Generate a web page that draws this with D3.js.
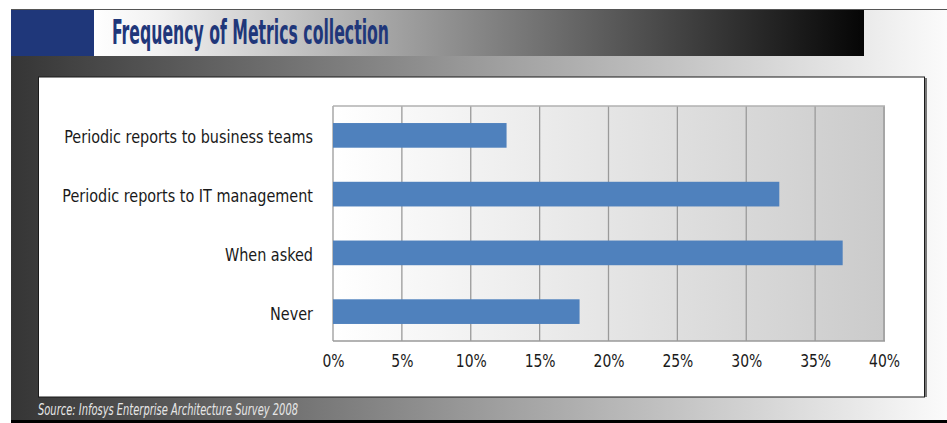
<!DOCTYPE html>
<html>
<head>
<meta charset="utf-8">
<script src="https://cdn.jsdelivr.net/npm/d3@7"></script>
<style>
  html, body { margin: 0; padding: 0; background: #fff; }
  svg { display: block; }
</style>
</head>
<body>
<svg id="chart" width="947" height="423"></svg>
<script>
// Survey answers, share of respondents (%)
const categories = [
  "Periodic reports to business teams",
  "Periodic reports to IT management",
  "When asked",
  "Never"
];
const values = [12.6, 32.4, 37.0, 17.9];
const tickValues = [0, 5, 10, 15, 20, 25, 30, 35, 40];
const titleText = "Frequency of Metrics collection";
const sourceText = "Source: Infosys Enterprise Architecture Survey 2008";

const svg = d3.select("#chart");
const defs = svg.append("defs");
const narrow = "'Liberation Sans Narrow', 'DejaVu Sans Condensed', 'Liberation Sans', sans-serif";

// Narrow the glyphs of every text in a selection by factor k
function squeeze(sel, k) {
  sel.each(function () {
    const w = this.getComputedTextLength();
    d3.select(this).attr("textLength", w * k).attr("lengthAdjust", "spacingAndGlyphs");
  });
}

// Gradients: backdrop band, title strip, plot area
const bandGrad = defs.append("linearGradient").attr("id", "bandGrad")
  .attr("x1", "0%").attr("x2", "100%").attr("y1", "0%").attr("y2", "0%");
bandGrad.append("stop").attr("offset", "0%").attr("stop-color", "#353535");
bandGrad.append("stop").attr("offset", "50%").attr("stop-color", "#9b9b9b");
bandGrad.append("stop").attr("offset", "100%").attr("stop-color", "#fbfbfb");

const titleGrad = defs.append("linearGradient").attr("id", "titleGrad")
  .attr("x1", "0%").attr("x2", "100%").attr("y1", "0%").attr("y2", "0%");
titleGrad.append("stop").attr("offset", "0%").attr("stop-color", "#ffffff");
titleGrad.append("stop").attr("offset", "8%").attr("stop-color", "#f2f2f2");
titleGrad.append("stop").attr("offset", "100%").attr("stop-color", "#050505");

const plotGrad = defs.append("linearGradient").attr("id", "plotGrad")
  .attr("x1", "0%").attr("x2", "100%").attr("y1", "0%").attr("y2", "0%");
plotGrad.append("stop").attr("offset", "0%").attr("stop-color", "#ffffff");
plotGrad.append("stop").attr("offset", "100%").attr("stop-color", "#cbcbcb");

// Backdrop band
svg.append("rect").attr("x", 11).attr("y", 10).attr("width", 936).attr("height", 410)
  .attr("fill", "url(#bandGrad)");
svg.append("line").attr("x1", 11).attr("x2", 947).attr("y1", 9.5).attr("y2", 9.5)
  .attr("stroke", "#555").attr("stroke-width", 1);
svg.append("rect").attr("x", 11).attr("y", 420).attr("width", 936).attr("height", 3)
  .attr("fill", "#000");

// Title strip
svg.append("rect").attr("x", 11).attr("y", 10).attr("width", 83).attr("height", 46)
  .attr("fill", "#1f377a");
svg.append("rect").attr("x", 94).attr("y", 10).attr("width", 770).attr("height", 46)
  .attr("fill", "url(#titleGrad)");
svg.append("text").attr("x", 112).attr("y", 44)
  .attr("font-family", narrow).attr("font-weight", "bold").attr("font-size", 33)
  .attr("fill", "#1f377a")
  .attr("textLength", 277).attr("lengthAdjust", "spacingAndGlyphs")
  .text(titleText);

// White panel
svg.append("rect").attr("x", 925).attr("y", 78).attr("width", 2).attr("height", 319)
  .attr("fill", "#777");
svg.append("rect").attr("x", 38.5).attr("y", 77).attr("width", 886).attr("height", 320)
  .attr("fill", "#fff").attr("stroke", "#1a1a1a").attr("stroke-width", 1);

// Source note
svg.append("text").attr("x", 38).attr("y", 415)
  .attr("font-family", narrow).attr("font-style", "italic").attr("font-size", 15)
  .attr("fill", "#e6e6e6")
  .attr("textLength", 260).attr("lengthAdjust", "spacingAndGlyphs")
  .text(sourceText);

// Plot
const plot = { left: 333, right: 884, top: 106, bottom: 341 };
const x = d3.scaleLinear().domain([0, 40]).range([plot.left, plot.right]);
const y = d3.scaleBand().domain(categories).range([plot.top, plot.bottom])
  .paddingInner(0.58).paddingOuter(0.29);

svg.append("rect").attr("x", plot.left).attr("y", plot.top)
  .attr("width", plot.right - plot.left).attr("height", plot.bottom - plot.top)
  .attr("fill", "url(#plotGrad)");

// Vertical gridlines
svg.append("g").selectAll("line").data(tickValues).join("line")
  .attr("x1", d => x(d)).attr("x2", d => x(d))
  .attr("y1", plot.top).attr("y2", plot.bottom)
  .attr("stroke", d => d === 40 ? "#a6a6a6" : "#9a9a9a")
  .attr("stroke-width", d => d === 40 ? 2 : 1.3);

svg.append("line").attr("x1", plot.left).attr("x2", plot.right + 1)
  .attr("y1", plot.top).attr("y2", plot.top).attr("stroke", "#b0b0b0").attr("stroke-width", 1.5);
svg.append("line").attr("x1", plot.left).attr("x2", plot.right + 1)
  .attr("y1", plot.bottom).attr("y2", plot.bottom).attr("stroke", "#9a9a9a").attr("stroke-width", 1.3);

// Bars
svg.append("g").selectAll("rect").data(categories).join("rect")
  .attr("x", x(0))
  .attr("y", d => y(d))
  .attr("width", (d, i) => x(values[i]) - x(0))
  .attr("height", y.bandwidth())
  .attr("fill", "#4f81bd");

// X axis labels
const xAxis = d3.axisBottom(x).tickValues(tickValues).tickFormat(d => d + "%").tickSize(0).tickPadding(13);
const gx = svg.append("g").attr("transform", `translate(0,${plot.bottom})`).call(xAxis);
gx.select(".domain").remove();
gx.selectAll("text").attr("font-family", narrow).attr("font-size", 18).attr("fill", "#1a1a1a");
squeeze(gx.selectAll("text"), 0.86);

// Category labels
const yAxis = d3.axisLeft(y).tickSize(0).tickPadding(20);
const gy = svg.append("g").attr("transform", `translate(${plot.left},0)`).call(yAxis);
gy.select(".domain").remove();
gy.selectAll("text").attr("font-family", narrow).attr("font-size", 18).attr("fill", "#1a1a1a")
  .attr("dy", "0.45em");
squeeze(gy.selectAll("text"), 0.89);
</script>
</body>
</html>
